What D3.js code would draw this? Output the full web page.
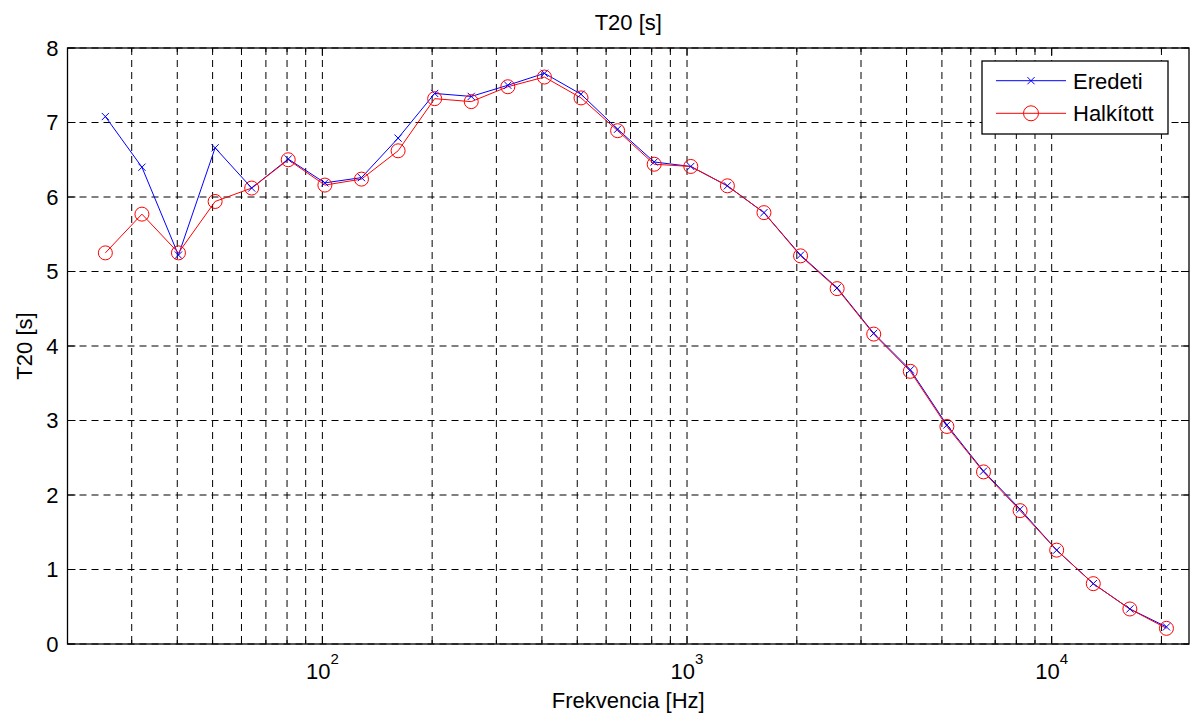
<!DOCTYPE html>
<html><head><meta charset="utf-8">
<script src="https://cdn.jsdelivr.net/npm/d3@7"></script>
<style>body{margin:0;background:#fff}svg{display:block}text{font-family:"Liberation Sans",Arial,sans-serif;fill:#000}</style>
</head><body>
<svg id="c" width="1191" height="716"></svg>
<script>
const freqs = [25.4, 32, 40.3, 50.8, 64, 80.6, 101.6, 128, 161.3, 203.2, 256, 322.5, 406.4, 512, 645.1, 812.7, 1024, 1290.2, 1625.5, 2048, 2580.3, 3251, 4096, 5160.6, 6502, 8192, 10321, 13004, 16384, 20643];
const eredeti = [7.08, 6.40, 5.22, 6.66, 6.12, 6.51, 6.19, 6.26, 6.79, 7.39, 7.35, 7.50, 7.66, 7.38, 6.91, 6.47, 6.41, 6.15, 5.79, 5.22, 4.78, 4.17, 3.68, 2.94, 2.32, 1.81, 1.26, 0.81, 0.47, 0.23];
const halkitott = [5.25, 5.77, 5.25, 5.94, 6.12, 6.50, 6.16, 6.24, 6.62, 7.32, 7.28, 7.48, 7.61, 7.33, 6.89, 6.44, 6.41, 6.15, 5.79, 5.21, 4.77, 4.16, 3.66, 2.92, 2.31, 1.79, 1.26, 0.81, 0.47, 0.21];
const xMajorExps = [2, 3, 4];
const xGridVals = [20,30,40,50,60,70,80,90,100,200,300,400,500,600,700,800,900,1000,2000,3000,4000,5000,6000,7000,8000,9000,10000,20000];
const yTicks = [0,1,2,3,4,5,6,7,8];
const seriesNames = ["Eredeti", "Halkított"];
const titleText = "T20 [s]";
const xLabelText = "Frekvencia [Hz]";
const yLabelText = "T20 [s]";

const L = 67.5, R = 1189, T = 48, B = 644;
const FS = 22;
const svg = d3.select("#c");
const x = d3.scaleLog().domain([20, 23800]).range([L, R]);
const y = d3.scaleLinear().domain([0, 8]).range([B, T]);

// grid
const g = svg.append("g");
g.selectAll("line.vg").data(xGridVals).join("line")
  .attr("x1", d => x(d)).attr("x2", d => x(d)).attr("y1", T).attr("y2", B)
  .attr("stroke", "#000").attr("stroke-width", 1).attr("stroke-dasharray", "7,5");
g.selectAll("line.hg").data(yTicks).join("line")
  .attr("x1", L).attr("x2", R).attr("y1", d => y(d)).attr("y2", d => y(d))
  .attr("stroke", "#000").attr("stroke-width", 1).attr("stroke-dasharray", "7,5");

// series
const pts = (vals) => freqs.map((f, i) => [f, vals[i]]);
const line = d3.line().x(d => x(d[0])).y(d => y(d[1]));
svg.append("path").datum(pts(eredeti)).attr("d", line).attr("fill", "none").attr("stroke", "#0000ff").attr("stroke-width", 1);
svg.append("path").datum(pts(halkitott)).attr("d", line).attr("fill", "none").attr("stroke", "#ff0000").attr("stroke-width", 1);
const s = 3.6;
svg.append("g").selectAll("path").data(pts(eredeti)).join("path")
  .attr("d", d => { const cx = x(d[0]), cy = y(d[1]); return `M${cx-s},${cy-s}L${cx+s},${cy+s}M${cx-s},${cy+s}L${cx+s},${cy-s}`; })
  .attr("stroke", "#0000ff").attr("stroke-width", 1).attr("fill", "none");
svg.append("g").selectAll("circle").data(pts(halkitott)).join("circle")
  .attr("cx", d => x(d[0])).attr("cy", d => y(d[1])).attr("r", 7)
  .attr("fill", "none").attr("stroke", "#ff0000").attr("stroke-width", 1);

// ticks (inward)
const tk = svg.append("g").attr("stroke", "#000").attr("stroke-width", 1);
xGridVals.forEach(v => {
  const major = xMajorExps.some(e => Math.abs(v - Math.pow(10, e)) < 1e-6);
  const len = major ? 8 : 4;
  tk.append("line").attr("x1", x(v)).attr("x2", x(v)).attr("y1", B).attr("y2", B - len);
  tk.append("line").attr("x1", x(v)).attr("x2", x(v)).attr("y1", T).attr("y2", T + len);
});
yTicks.forEach(v => {
  tk.append("line").attr("x1", L).attr("x2", L + 8).attr("y1", y(v)).attr("y2", y(v));
  tk.append("line").attr("x1", R).attr("x2", R - 8).attr("y1", y(v)).attr("y2", y(v));
});

// box
svg.append("rect").attr("x", L).attr("y", T).attr("width", R - L).attr("height", B - T)
  .attr("fill", "none").attr("stroke", "#000").attr("stroke-width", 1.3);

// y tick labels
svg.append("g").selectAll("text").data(yTicks).join("text")
  .attr("x", L - 9).attr("y", d => y(d)).attr("dy", "0.36em")
  .attr("text-anchor", "end").attr("font-size", FS).text(d => d);

// x tick labels
xMajorExps.forEach(e => {
  const t = svg.append("text").attr("x", x(Math.pow(10, e))).attr("y", 679)
    .attr("text-anchor", "middle").attr("font-size", FS);
  t.append("tspan").text("10");
  t.append("tspan").attr("font-size", 15).attr("dy", -15).text(e);
});

// labels
svg.append("text").attr("x", (L + R) / 2).attr("y", 30).attr("text-anchor", "middle").attr("font-size", FS).text(titleText);
svg.append("text").attr("x", (L + R) / 2).attr("y", 708).attr("text-anchor", "middle").attr("font-size", FS).text(xLabelText);
svg.append("text").attr("transform", `translate(32,${(T + B) / 2}) rotate(-90)`).attr("text-anchor", "middle").attr("font-size", FS).text(yLabelText);

// legend
const lg = svg.append("g");
lg.append("rect").attr("x", 982).attr("y", 61).attr("width", 186).attr("height", 73)
  .attr("fill", "#fff").attr("stroke", "#000").attr("stroke-width", 1.3);
const rows = [80.7, 113.3];
const colors = ["#0000ff", "#ff0000"];
rows.forEach((ry, i) => {
  lg.append("line").attr("x1", 996).attr("x2", 1066).attr("y1", ry).attr("y2", ry).attr("stroke", colors[i]).attr("stroke-width", 1);
  if (i === 0) {
    const cx = 1031;
    lg.append("path").attr("d", `M${cx-s},${ry-s}L${cx+s},${ry+s}M${cx-s},${ry+s}L${cx+s},${ry-s}`).attr("stroke", colors[i]).attr("fill", "none");
  } else {
    lg.append("circle").attr("cx", 1031).attr("cy", ry).attr("r", 7.5).attr("fill", "none").attr("stroke", colors[i]);
  }
  lg.append("text").attr("x", 1073).attr("y", ry).attr("dy", "0.36em").attr("font-size", FS).text(seriesNames[i]);
});
</script>
</body></html>
